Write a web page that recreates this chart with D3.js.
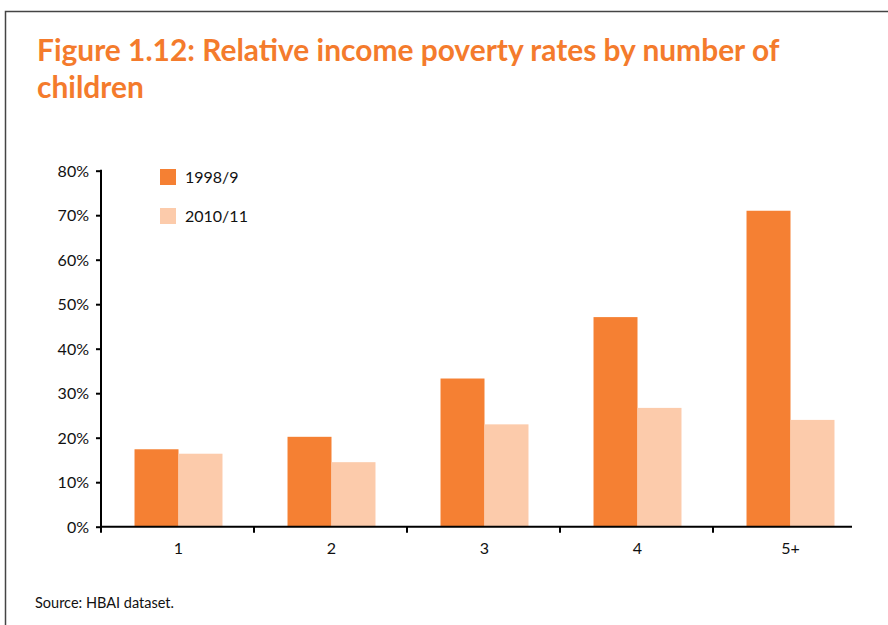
<!DOCTYPE html>
<html>
<head>
<meta charset="utf-8">
<script src="https://cdn.jsdelivr.net/npm/d3@7"></script>
<style>
  html, body { margin: 0; padding: 0; background: #fff; }
  svg { display: block; }
  text { font-family: Lato, "Open Sans", sans-serif; }
</style>
</head>
<body>
<script>
// Relative income poverty rates by number of children (HBAI)
const categories = ["1", "2", "3", "4", "5+"];
const seriesNames = ["1998/9", "2010/11"];
const values1998 = [0.174, 0.202, 0.333, 0.471, 0.710];
const values2010 = [0.164, 0.145, 0.230, 0.267, 0.240];
const yTicks = [0, 0.1, 0.2, 0.3, 0.4, 0.5, 0.6, 0.7, 0.8];
const colors = ["#F58033", "#FCCBAB"];

const W = 888, H = 625;
const svg = d3.select("body").append("svg").attr("width", W).attr("height", H);

// outer frame
svg.append("path")
  .attr("d", `M5.5,${H + 2} L5.5,11.5 L${W + 2},11.5`)
  .attr("fill", "none").attr("stroke", "#444").attr("stroke-width", 1.5);

// title
const titleLines = ["Figure 1.12: Relative income poverty rates by number of", "children"];
const title = svg.append("g").attr("fill", "#F47B2C").attr("font-weight", 700);
const t1 = title.append("text").attr("x", 37).attr("y", 61).attr("font-size", 28).text(titleLines[0]);
const fs = 28 * 743 / t1.node().getComputedTextLength();
t1.attr("font-size", fs);
title.append("text").attr("x", 37).attr("y", 98).attr("font-size", fs).text(titleLines[1]);

// scales
const x0 = 101, yBase = 526.7, yTop = 170.7;
const x = d3.scaleBand().domain(categories).range([x0 + 1, x0 + 1 + 765]).paddingInner(0.425).paddingOuter(0.2125);
const xs = d3.scaleBand().domain(seriesNames).range([0, x.bandwidth()]);
const y = d3.scaleLinear().domain([0, 0.8]).range([yBase, yTop]);

// bars
const series = [values1998, values2010];
series.forEach((vals, si) => {
  svg.append("g").selectAll("rect").data(categories).join("rect")
    .attr("x", d => x(d) + xs(seriesNames[si]))
    .attr("width", xs.bandwidth())
    .attr("y", (d, i) => y(vals[i]))
    .attr("height", (d, i) => y(0) - y(vals[i]))
    .attr("fill", colors[si]);
});

// y axis
const yAxis = d3.axisLeft(y).tickValues(yTicks).tickFormat(d3.format(".0%")).tickSize(5).tickSizeOuter(0);
const gy = svg.append("g").attr("transform", `translate(${x0},0)`).call(yAxis);
gy.select(".domain").attr("stroke", "#000").attr("stroke-width", 2).attr("d", `M0,${yTop - 1}V${yBase + 6}`);
gy.selectAll(".tick line").attr("stroke", "#000").attr("stroke-width", 2);
gy.selectAll(".tick text").attr("font-size", 16).attr("fill", "#111").attr("x", -12).attr("dy", "0.35em");

// x axis: line ends short of the last band, ticks at band boundaries
const step = x.step();
const boundaries = d3.range(categories.length).map(i => x0 + i * step);
svg.append("line").attr("x1", x0).attr("x2", 852).attr("y1", yBase).attr("y2", yBase)
  .attr("stroke", "#000").attr("stroke-width", 2);
svg.append("g").selectAll("line").data(boundaries.slice(1)).join("line")
  .attr("x1", d => d).attr("x2", d => d).attr("y1", yBase).attr("y2", yBase + 6)
  .attr("stroke", "#000").attr("stroke-width", 2);
svg.append("g").selectAll("text").data(categories).join("text")
  .attr("x", d => x(d) + x.bandwidth() / 2).attr("y", 554)
  .attr("text-anchor", "middle").attr("font-size", 16).attr("fill", "#111")
  .text(d => d);

// legend
const legend = svg.append("g");
seriesNames.forEach((name, i) => {
  const ly = 169 + i * 39;
  legend.append("rect").attr("x", 160).attr("y", ly).attr("width", 16).attr("height", 16).attr("fill", colors[i]);
  legend.append("text").attr("x", 185).attr("y", ly + 14).attr("font-size", 16).attr("fill", "#111").text(name);
});

// source note
svg.append("text").attr("x", 35).attr("y", 608).attr("font-size", 14.5).attr("fill", "#111").text("Source: HBAI dataset.");
</script>
</body>
</html>
